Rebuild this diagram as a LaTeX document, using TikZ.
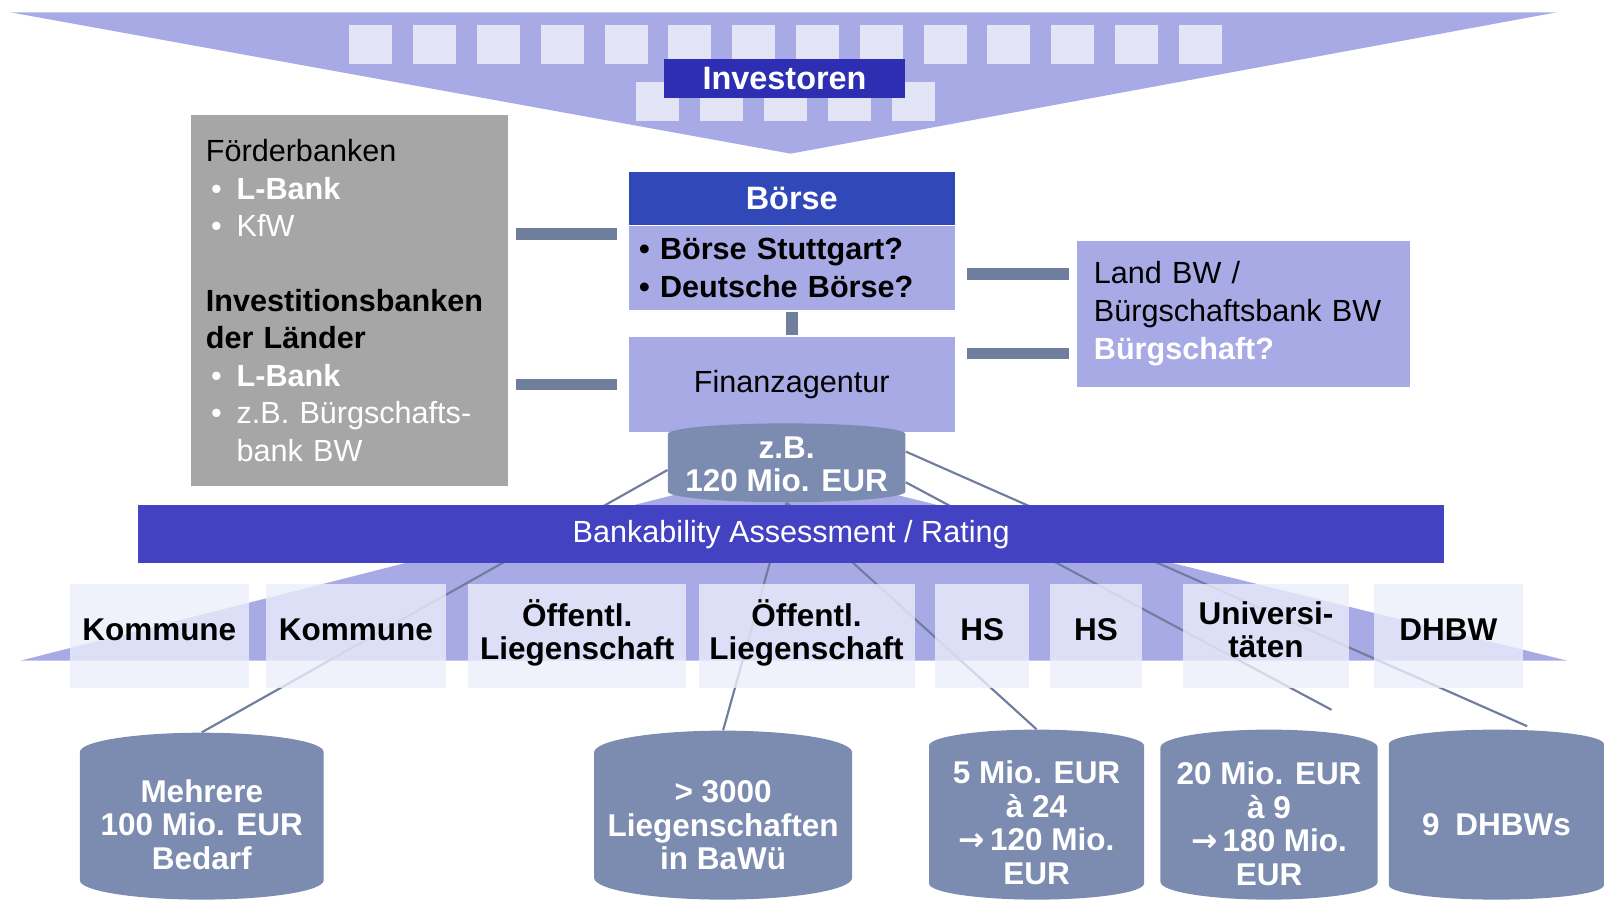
\documentclass[tikz,border=0pt]{standalone}
\usepackage{fontspec}
\setmainfont{Liberation Sans}
\newfontfamily\arrowfont{DejaVu Sans}
\usetikzlibrary{shapes.geometric, positioning, calc}
\usetikzlibrary{backgrounds}
\definecolor{lila}{RGB}{168,170,230}
\definecolor{lilalight}{RGB}{227,229,247}
\definecolor{boxlight}{RGB}{235,237,250}
\definecolor{navy}{RGB}{46,46,178}
\definecolor{boerseblue}{RGB}{48,72,184}
\definecolor{barblue}{RGB}{66,66,194}
\definecolor{slate}{RGB}{124,140,176}
\definecolor{slatedark}{RGB}{112,126,158}
\definecolor{greyfill}{RGB}{166,166,166}
\tikzstyle{lilabox} = [rectangle, fill=lila, text=black, font=\fontsize{17}{21}\selectfont]
\tikzstyle{headbox} = [rectangle, fill=boerseblue, text=white, font=\fontsize{18}{21}\selectfont\bfseries]
\tikzstyle{greybox} = [rectangle, fill=greyfill, align=left, font=\fontsize{17}{20.8}\selectfont]
\tikzstyle{member} = [rectangle, fill=boxlight, fill opacity=0.8, text opacity=1, minimum height=2.04cm, text depth=0.24cm, align=center, font=\fontsize{17.5}{18.2}\selectfont\bfseries]
\tikzstyle{cyl} = [cylinder, shape border rotate=90, aspect=0.18, anchor=north, inner ysep=0pt, fill=slate, text=white, align=center, font=\fontsize{17.5}{18.6}\selectfont\bfseries]
\tikzstyle{stub} = [slatedark, line width=6.5pt]
\tikzstyle{link} = [slatedark, line width=1.2pt]
\newcommand{\bankitem}[1]{\textcolor{white}{\makebox[0.6cm][l]{\,\textbullet}#1}}
\newcommand{\toarrow}{{\arrowfont →}}

\begin{document}
\begin{tikzpicture}[x=0.02cm, y=-0.02cm]
    \useasboundingbox (0,0) rectangle (1568,879);
    % investors funnel
    \fill[lila] (10,12) -- (1520,12) -- (772,150) -- cycle;
    \foreach \i in {0,...,13}
        \fill[lilalight] ({341+62.3*\i},24) rectangle ++(42,38);
    \foreach \i in {0,...,4}
        \fill[lilalight] ({621+62.5*\i},80) rectangle ++(42,38);
    \node (invest) [rectangle, fill=navy, text=white, minimum width=4.72cm, minimum height=0.76cm, font=\fontsize{18}{21}\selectfont\bfseries] at (766,77) {Investoren};

    \node (foerder) [greybox, minimum width=6.2cm, minimum height=7.26cm, text width=5.6cm, inner xsep=0.3cm] at (341,293.5)
        {Förderbanken\\
        \bankitem{\textbf{L-Bank}}\\
        \bankitem{KfW}\\[0.73cm]
        \textbf{Investitionsbanken}\\
        \textbf{der Länder}\\
        \bankitem{\textbf{L-Bank}}\\
        \bankitem{z.B. Bürgschafts-}\\
        \hspace*{0.6cm}\textcolor{white}{bank BW}};
    \node (boerse) [headbox, minimum width=6.36cm, minimum height=1.04cm] at (773,194) {Börse};
    \node (boerselist) [lilabox, below=0cm of boerse, minimum width=6.36cm, minimum height=1.64cm, text width=5.96cm, inner xsep=0.2cm, align=left, font=\fontsize{17}{21}\selectfont\bfseries]
        {\textbullet\ Börse Stuttgart?\\ \textbullet\ Deutsche Börse?};
    \node (finanz) [lilabox, below=0.52cm of boerselist, minimum width=6.36cm, minimum height=1.84cm] {Finanzagentur};
    \node (landbw) [lilabox, minimum width=6.52cm, minimum height=2.86cm, text width=5.84cm, inner xsep=0.34cm, align=left] at (1214,306.5)
        {Land BW /\\ Bürgschaftsbank BW\\ \textcolor{white}{\textbf{Bürgschaft?}}};
    \node (zb) [cyl, aspect=0.1, text height=0.84cm, minimum width=4.64cm, minimum height=1.54cm, font=\fontsize{17.5}{18.2}\selectfont\bfseries] at (768,413) {z.B.\\ 120 Mio. EUR};
    \node (rating) [rectangle, fill=barblue, text=white, minimum width=25.5cm, minimum height=1.14cm, font=\fontsize{17}{20}\selectfont] at (772.5,521.5) {Bankability Assessment / Rating};

    \node (komm1) [member, minimum width=3.5cm] at (155.5,621) {Kommune};
    \node (komm2) [member, minimum width=3.5cm] at (347.5,621) {Kommune};
    \node (oeff1) [member, minimum width=4.26cm] at (563.5,621) {Öffentl.\\ Liegenschaft};
    \node (oeff2) [member, minimum width=4.22cm] at (787.5,621) {Öffentl.\\ Liegenschaft};
    \node (hs1) [member, minimum width=1.84cm] at (959,621) {HS};
    \node (hs2) [member, minimum width=1.8cm] at (1070,621) {HS};
    \node (uni) [member, minimum width=3.24cm] at (1236,621) {Universi-\\ täten};
    \node (dhbw) [member, minimum width=2.92cm] at (1414,621) {DHBW};

    \node (mehrere) [cyl, text height=1.58cm, minimum width=4.76cm, minimum height=3.26cm] at (197,715) {Mehrere\\ 100 Mio. EUR\\ Bedarf};
    \node (liegen) [cyl, text height=1.58cm, minimum width=5.04cm, minimum height=3.3cm] at (706,713) {> 3000\\ Liegenschaften\\ in BaWü};
    \node (fuenf) [cyl, text height=2.3cm, minimum width=4.2cm, minimum height=3.32cm] at (1012,712) {5 Mio. EUR\\ à 24\\ \toarrow\,120 Mio.\\ EUR};
    \node (zwanzig) [cyl, text height=2.3cm, minimum width=4.24cm, minimum height=3.32cm] at (1239,712) {20 Mio. EUR\\ à 9\\ \toarrow\,180 Mio.\\ EUR};
    \node (dhbws) [cyl, minimum width=4.2cm, minimum height=3.32cm] at (1461,712) {9\enspace DHBWs};
    \coordinate (zwanzigtip) at ($(zwanzig.north)+(61,-19)$);

    \draw [stub] ($(foerder.east |- boerselist.north)+(7,8)$) -- ($(boerselist.north west)+(-11,8)$);
    \draw [stub] ($(foerder.east |- finanz.west)+(7,0)$) -- ($(finanz.west)+(-11,0)$);
    \draw [stub] ($(boerselist.east)+(12,6)$) -- ($(landbw.west |- boerselist.east)+(-7,6)$);
    \draw [stub] ($(finanz.north east)+(12,16)$) -- ($(landbw.west |- finanz.north)+(-7,16)$);
    \draw [stub] ($(boerselist.south)+(0,2)$) -- ($(finanz.north)+(0,-2)$);

    \begin{scope}[on background layer]
        \fill[lila] (20,645) -- (718,468) -- (814,468) -- (1530,645) -- cycle;
        \draw [link] (zb.west) -- (mehrere.north);
        \draw [link] (zb.south) -- (liegen.north);
        \draw [link] (zb.south) -- (fuenf.north);
        \draw [link] ($(zb.east)+(0,12)$) -- (zwanzigtip);
        \draw [link] ($(zb.east)+(0,-18)$) -- ($(dhbws.north)+(30,-3)$);
    \end{scope}
\end{tikzpicture}
\end{document}
